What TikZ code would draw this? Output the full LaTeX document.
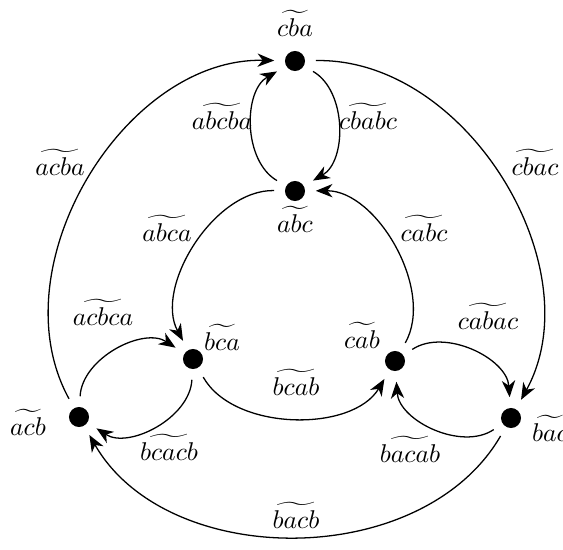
\documentclass[tikz,border=0pt]{standalone}
\usetikzlibrary{arrows.meta}
\begin{document}
\begin{tikzpicture}[x=0.01368cm,y=0.01368cm,
  dot/.style={circle,fill=black,inner sep=0pt,minimum size=7.8pt,outer sep=4.2pt},
  lbl/.style={inner sep=0pt},
  arr/.style={-{Stealth[length=6.5pt,width=5.2pt,inset=2pt]},line width=0.5pt}]
\useasboundingbox (0,0) rectangle (563,-549);
% nodes
\node[dot] (cba) at (295,-61) {};
\node[dot] (abc) at (295,-191) {};
\node[dot] (bca) at (193,-359) {};
\node[dot] (cab) at (395,-361) {};
\node[dot] (acb) at (79,-417) {};
\node[dot] (bac) at (511,-418) {};
% outer cycle
\draw[arr] (cba) to[bend left=60,looseness=0.97] (bac);
\draw[arr] (bac) to[bend left=60,looseness=0.97] (acb);
\draw[arr] (acb) to[bend left=60,looseness=0.97] (cba);
% inner cycle
\draw[arr] (abc) to[bend right=60,looseness=0.88] (bca);
\draw[arr] (bca) to[bend right=60,looseness=0.88] (cab);
\draw[arr] (cab) to[bend right=60,looseness=0.88] (abc);
% pairs
\draw[arr] (abc) to[bend left=60,looseness=0.92] (cba);
\draw[arr] (cba) to[bend left=60,looseness=0.92] (abc);
\draw[arr] (acb) to[bend left=60,looseness=0.92] (bca);
\draw[arr] (bca) to[bend left=60,looseness=0.92] (acb);
\draw[arr] (cab) to[bend left=60,looseness=0.92] (bac);
\draw[arr] (bac) to[bend left=60,looseness=0.92] (cab);
% labels
\node[lbl] (lcba) at (295,-23) {$\widetilde{cba}$};
\node[lbl] (labc) at (295,-219) {$\widetilde{abc}$};
\node[lbl] (lbca) at (222,-337) {$\widetilde{bca}$};
\node[lbl] (lcab) at (362,-335) {$\widetilde{cab}$};
\node[lbl] (lacb) at (28,-422) {$\widetilde{acb}$};
\node[lbl] (lbac) at (550,-428) {$\widetilde{bac}$};
\node[lbl] (labcba) at (222,-116) {$\widetilde{abcba}$};
\node[lbl] (lcbabc) at (368,-116) {$\widetilde{cbabc}$};
\node[lbl] (lacba) at (60,-162) {$\widetilde{acba}$};
\node[lbl] (lcbac) at (535,-162) {$\widetilde{cbac}$};
\node[lbl] (labca) at (167,-228) {$\widetilde{abca}$};
\node[lbl] (lcabc) at (424,-228) {$\widetilde{cabc}$};
\node[lbl] (lacbca) at (103,-312) {$\widetilde{acbca}$};
\node[lbl] (lcabac) at (488,-316) {$\widetilde{cabac}$};
\node[lbl] (lbcab) at (296,-382) {$\widetilde{bcab}$};
\node[lbl] (lbcacb) at (169,-447) {$\widetilde{bcacb}$};
\node[lbl] (lbacab) at (410,-449) {$\widetilde{bacab}$};
\node[lbl] (lbacb) at (296,-515) {$\widetilde{bacb}$};
\end{tikzpicture}
\end{document}
